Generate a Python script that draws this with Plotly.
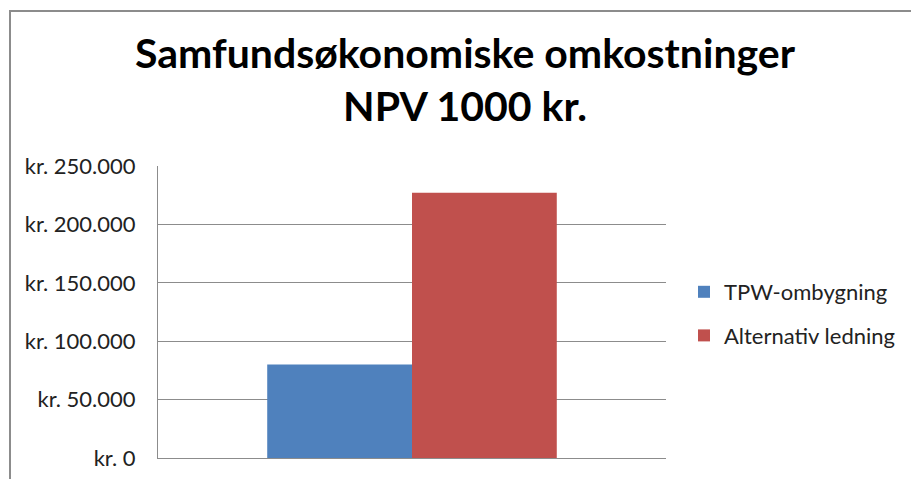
import plotly.graph_objects as go

categories = [""]
series_names = ["TPW-ombygning", "Alternativ ledning"]
series_values = [[80000], [227000]]
series_colors = ["#4F81BD", "#C0504D"]
y_ticks = [0, 50000, 100000, 150000, 200000, 250000]
y_tick_labels = ["kr. " + f"{v:,}".replace(",", ".") for v in y_ticks]

W, H = 911, 479
L, R, T, B = 158, 666, 166, 458

fig = go.Figure()
for i, (name, vals, col) in enumerate(zip(series_names, series_values, series_colors)):
    fig.add_trace(go.Bar(x=categories, y=vals, name=name, marker=dict(color=col, line=dict(width=0)),
                         legendgroup=f"g{i}", hoverinfo="skip"))

def px_to_paper_x(px):
    return (px - L) / (R - L)

def px_to_paper_y(py):
    return (B - py) / (B - T)

fig.update_layout(
    width=W, height=H,
    margin=dict(l=L, r=W - R, t=T, b=H - B, pad=0, autoexpand=False),
    paper_bgcolor="white", plot_bgcolor="white",
    font=dict(family="Lato, Carlito, sans-serif", color="#000000"),
    barmode="group", bargap=0.43, bargroupgap=0,
    title=dict(text="<b>Samfundsøkonomiske omkostninger<br>NPV 1000 kr.</b>",
               x=465 / W, xanchor="center", xref="container",
               y=1 - 68 / H, yanchor="top", yref="container",
               font=dict(size=41, color="#000000")),
    showlegend=True,
    legend=dict(x=px_to_paper_x(684), xanchor="left", y=px_to_paper_y(271), yanchor="top",
                font=dict(size=22, color="#222222"), tracegroupgap=12, itemwidth=30,
                bgcolor="rgba(0,0,0,0)"),
    xaxis=dict(showgrid=False, showline=True, linecolor="#8c8c8c", linewidth=1,
               ticks="", showticklabels=False, zeroline=False, fixedrange=True),
    yaxis=dict(range=[0, 250000], tickvals=y_ticks, ticktext=y_tick_labels,
               showgrid=True, gridcolor="#8c8c8c", gridwidth=1,
               showline=True, linecolor="#8c8c8c", linewidth=1, zeroline=False,
               ticks="", ticklabelstandoff=17,
               tickfont=dict(size=22, color="#222222"), fixedrange=True),
    shapes=[dict(type="rect", xref="paper", yref="paper",
                 x0=px_to_paper_x(10), x1=px_to_paper_x(W + 20),
                 y0=px_to_paper_y(H + 20), y1=px_to_paper_y(11),
                 line=dict(color="#8c8c8c", width=2), fillcolor="rgba(0,0,0,0)", layer="below")],
)

fig.write_html("out.html", config={"displayModeBar": False},
               post_script="document.body.style.margin='0';document.body.style.padding='0';")
